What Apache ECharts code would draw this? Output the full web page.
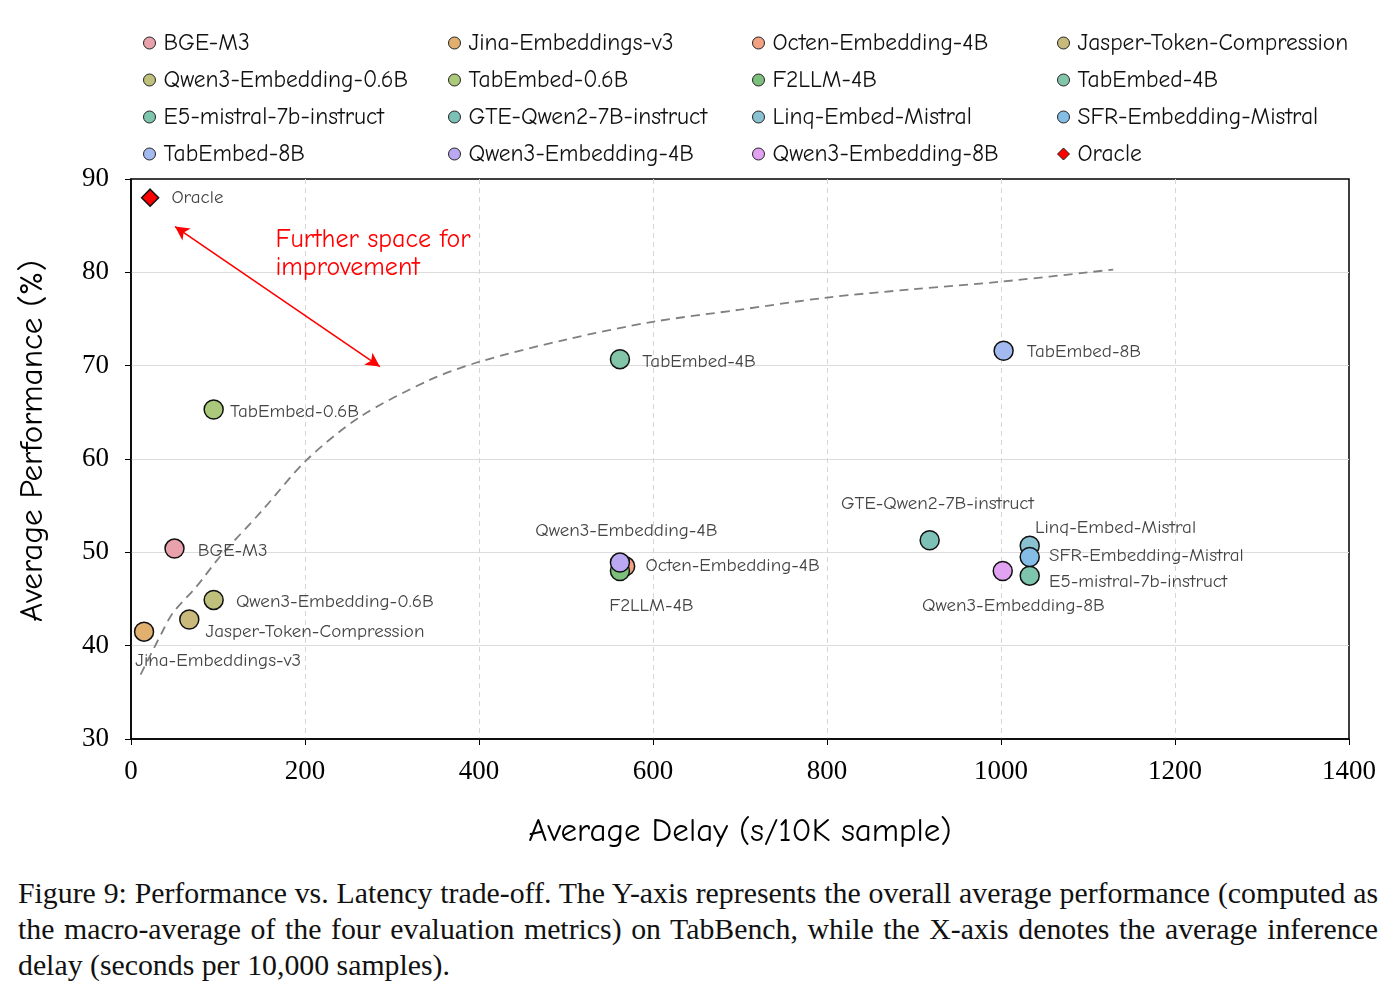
<!DOCTYPE html>
<html>
<head>
<meta charset="utf-8">
<title>Performance vs. Latency</title>
<script src="https://cdn.jsdelivr.net/npm/echarts@6/dist/echarts.min.js"></script>
<style>
  html, body { margin: 0; padding: 0; background: #fff; }
  #chart { position: absolute; left: 0; top: 0; width: 1394px; height: 870px; }
  #caption { position: absolute; left: 18px; top: 875px; width: 1360px;
    font-family: 'Liberation Serif', 'Times New Roman', serif; font-size: 29.8px; color: #111; }
  #caption div { height: 36px; line-height: 36px; white-space: nowrap; }
  #caption .j { text-align: justify; text-align-last: justify; }
</style>
</head>
<body>
<div id="chart"></div>
<div id="caption">
  <div class="j">Figure 9: Performance vs. Latency trade-off. The Y-axis represents the overall average performance (computed as</div>
  <div class="j">the macro-average of the four evaluation metrics) on TabBench, while the X-axis denotes the average inference</div>
  <div>delay (seconds per 10,000 samples).</div>
</div>
<script>
// 模型名称（图例按行排列的顺序）
const models = [
  'BGE-M3', 'Jina-Embeddings-v3', 'Octen-Embedding-4B', 'Jasper-Token-Compression',
  'Qwen3-Embedding-0.6B', 'TabEmbed-0.6B', 'F2LLM-4B', 'TabEmbed-4B',
  'E5-mistral-7b-instruct', 'GTE-Qwen2-7B-instruct', 'Linq-Embed-Mistral', 'SFR-Embedding-Mistral',
  'TabEmbed-8B', 'Qwen3-Embedding-4B', 'Qwen3-Embedding-8B', 'Oracle'
]
// 平均延迟 (s/10K sample)
const delay = [50, 15, 568, 67, 95, 95, 562, 562, 1033, 918, 1033, 1033, 1003, 562, 1002, 22]
// 平均性能 (%)
const perf = [50.4, 41.5, 48.5, 42.8, 44.9, 65.3, 48.0, 70.7, 47.5, 51.3, 50.7, 49.5, 71.6, 48.9, 48.0, 88.0]

// 趋势虚线
const trendDelay = [11, 35, 48, 75, 102, 150, 202, 263, 344, 400, 500, 600, 700, 800, 900, 1000, 1129]
const trendPerf = [36.9, 41.3, 43.5, 46.3, 49.5, 54.4, 59.9, 64.5, 68.5, 70.4, 72.8, 74.7, 76.0, 77.3, 78.2, 79.0, 80.3]

// 红色箭头两端
const arrowStart = [50.6, 84.9]
const arrowEnd = [286, 69.9]
const noteText = 'Further space for\nimprovement'
const notePos = [166, 82.0]

const xTicks = [0, 200, 400, 600, 800, 1000, 1200, 1400]
const yTicks = [30, 40, 50, 60, 70, 80, 90]

const colors = [
  '#E9A1AC', '#E2B06E', '#F2A283', '#C9BA7C',
  '#BEC07C', '#AAC97A', '#7CC07C', '#82C5A9',
  '#7EC5AE', '#7CC0B6', '#8AC2D2', '#84BEE6',
  '#A3BAF0', '#BAA9F2', '#E1A2F2', '#FF0000'
]

// 标签偏移（相对 position: right）
const labelOffsets = [
  [3, 2], [-29, 29], [0, -1], [-4, 12],
  [2, 2], [-4, 2], [-31, 35], [2, 2],
  [-1, 6], [-109, -37], [-15, -18], [-1, -1],
  [3, 1], [-105, -32], [-101, 35], [2, 0]
]

const comic = "'Comic Sans MS', 'Comic Neue', 'Open Sans', sans-serif"
const serif = "'Liberation Serif', 'Times New Roman', serif"

const chart = echarts.init(document.getElementById('chart'))

const scatterSeries = models.map((name, i) => ({
  name: name,
  type: 'scatter',
  data: [[delay[i], perf[i]]],
  symbol: name === 'Oracle' ? 'diamond' : 'circle',
  symbolSize: name === 'Oracle' ? 17 : 19,
  z: 3,
  itemStyle: { color: colors[i], borderColor: '#111', borderWidth: 1.5, opacity: 1 },
  label: {
    show: true,
    formatter: name,
    position: 'right',
    distance: 10,
    offset: labelOffsets[i],
    color: '#444',
    fontSize: 19,
    fontFamily: comic
  },
  emphasis: { disabled: true }
}))

// 按列构建图例
const legendCols = [0, 1, 2, 3].map(c => [0, 1, 2, 3].map(r => models[r * 4 + c]))
const legendLeft = [143, 448, 752, 1057]
const legends = legendCols.map((col, c) => ({
  data: col,
  orient: 'vertical',
  left: legendLeft[c],
  top: 31,
  itemWidth: 12,
  itemHeight: 12,
  itemGap: 13,
  padding: 0,
  selectedMode: false,
  itemStyle: { borderColor: '#222', borderWidth: 1 },
  textStyle: { fontSize: 23.5, fontFamily: comic, color: '#111', lineHeight: 22, padding: [0, 0, 0, 3] }
}))

chart.setOption({
  animation: false,
  backgroundColor: '#fff',
  legend: legends,
  grid: {
    left: 131, right: 45, top: 179, bottom: 131,
    show: true, borderColor: '#000', borderWidth: 1.5, backgroundColor: 'transparent'
  },
  xAxis: {
    type: 'value', min: 0, max: 1400, interval: 200,
    name: 'Average Delay (s/10K sample)',
    nameLocation: 'middle', nameGap: 76,
    nameTextStyle: { fontSize: 33, fontFamily: comic, color: '#000' },
    axisLine: { show: true, lineStyle: { color: '#000', width: 1.5 } },
    axisTick: { show: true, length: 6, lineStyle: { color: '#000' } },
    axisLabel: { fontSize: 27, fontFamily: serif, color: '#000', margin: 19,
      formatter: v => xTicks.includes(v) ? String(v) : '' },
    splitLine: { show: true, showMinLine: false, showMaxLine: false,
      lineStyle: { color: '#d6d6d6', type: [5, 4], width: 1 } }
  },
  yAxis: {
    type: 'value', min: 30, max: 90, interval: 10,
    name: 'Average Performance (%)',
    nameLocation: 'middle', nameGap: 82,
    nameTextStyle: { fontSize: 33, fontFamily: comic, color: '#000', padding: [0, 0, 0, 36] },
    axisLine: { show: true, lineStyle: { color: '#000', width: 1.5 } },
    axisTick: { show: true, length: 6, lineStyle: { color: '#000' } },
    axisLabel: { fontSize: 27, fontFamily: serif, color: '#000', margin: 22,
      formatter: v => yTicks.includes(v) ? String(v) : '' },
    splitLine: { show: true, showMinLine: false, showMaxLine: false,
      lineStyle: { color: '#dcdcdc', width: 1.2 } }
  },
  series: [
    {
      name: 'trend',
      type: 'line',
      data: trendDelay.map((x, i) => [x, trendPerf[i]]),
      smooth: 0.3,
      showSymbol: false,
      z: 2,
      lineStyle: { color: '#808080', width: 1.8, type: [9, 6] },
      emphasis: { disabled: true },
      markLine: {
        silent: true,
        symbol: ['arrow', 'arrow'],
        symbolSize: [11, 14],
        label: { show: false },
        lineStyle: { color: '#FF0000', width: 1.6, type: 'solid' },
        data: [[{ coord: arrowStart }, { coord: arrowEnd }]]
      },
      markPoint: {
        silent: true,
        symbol: 'circle',
        symbolSize: 0,
        data: [{ coord: notePos }],
        label: {
          show: true,
          formatter: noteText,
          position: 'right',
          distance: 0,
          color: '#FF0000',
          fontSize: 26,
          lineHeight: 28,
          fontFamily: comic
        }
      }
    },
    ...scatterSeries
  ]
})
</script>
</body>
</html>
